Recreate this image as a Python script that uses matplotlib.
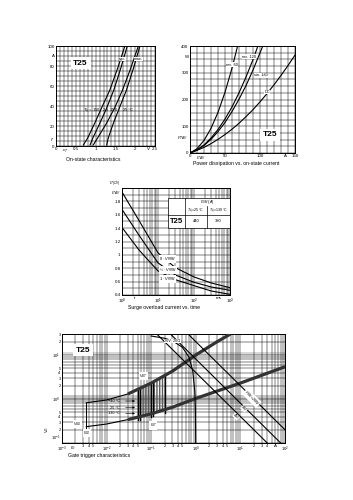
import numpy as np
import matplotlib
matplotlib.use("Agg")
import matplotlib.pyplot as plt
from matplotlib.ticker import FixedLocator, MultipleLocator, NullFormatter, FuncFormatter, LogLocator

plt.rcParams['font.family'] = ['Liberation Sans', 'DejaVu Sans']
plt.rcParams['mathtext.fontset'] = 'custom'
plt.rcParams['mathtext.rm'] = 'Liberation Sans'
plt.rcParams['mathtext.it'] = 'Liberation Sans:italic'

# ---------------- data: on-state characteristics ----------------
on_i = [1, 8, 23, 38, 56, 77, 100]
on_v_150_typ = [0.69, 0.80, 0.98, 1.15, 1.36, 1.55, 1.74]
on_v_25_typ = [0.86, 0.93, 1.11, 1.28, 1.46, 1.63, 1.80]
on_v_150_max = [0.94, 1.05, 1.28, 1.48, 1.68, 1.88, 2.08]
on_v_25_max = [1.28, 1.32, 1.45, 1.60, 1.78, 1.95, 2.12]
on_xticks = [0, 0.5, 1, 1.5, 2, 2.5]
on_xlabels = ['0', '0.5', '1', '1.5', '2', '2.5']
on_yticks = [0, 20, 40, 60, 80, 100]

# ---------------- data: power dissipation ----------------
pd_rec60_i = [0, 10, 20, 30, 40, 50, 60, 68]
pd_rec60_p = [0, 16, 47, 92, 152, 227, 317, 400]
pd_rec120_i = [0, 10, 20, 30, 40, 50, 60, 70, 80, 90, 97]
pd_rec120_p = [0, 12, 30, 56, 88, 127, 172, 225, 284, 349, 400]
pd_sin180_i = [0, 10, 20, 30, 40, 50, 60, 70, 80, 90, 104]
pd_sin180_p = [0, 11, 28, 51, 80, 114, 155, 201, 252, 310, 400]
pd_dc_i = [0, 10, 20, 30, 40, 50, 60, 70, 80, 90, 100, 110, 120, 130, 140, 150]
pd_dc_p = [0, 10, 21, 35, 51, 69, 89, 111, 136, 162, 191, 222, 255, 290, 327, 366]
pd_xticks = [0, 50, 100, 150]
pd_yticks = [0, 100, 200, 300, 400]

# ---------------- data: surge overload ----------------
su_t = [1, 3, 10, 30, 100, 300, 1000]
su_0vrrm = [1.94, 1.51, 1.03, 0.81, 0.67, 0.58, 0.51]
su_halfvrrm = [1.68, 1.29, 0.88, 0.70, 0.59, 0.52, 0.47]
su_1vrrm = [1.41, 1.07, 0.76, 0.63, 0.54, 0.46, 0.41]
su_yticks = [0.4, 0.6, 0.8, 1.0, 1.2, 1.4, 1.6, 1.8]
su_ylabels = ['0.4', '0.6', '0.8', '1', '1.2', '1.4', '1.6', '1.8']
su_itsm = ['440', '380']

# ---------------- data: gate trigger ----------------
g_up_i = [3.5e-3, 1e-2, 3e-2, 0.1, 0.3, 1, 3, 6]
g_up_v = [0.82, 0.95, 1.3, 2.3, 4.3, 10, 20, 30]
g_lo_i = [3.5e-3, 1e-2, 3e-2, 0.1, 0.3, 1, 10, 100]
g_lo_v = [0.235, 0.27, 0.34, 0.46, 0.65, 1.03, 2.3, 5.4]
g_load_i = [0.1, 0.2, 0.3, 0.5, 0.7, 0.85, 0.95, 0.98, 0.997]
g_load_v = [27, 24, 21, 15, 9, 4.5, 1.5, 0.6, 0.1]
g_p20_i, g_p20_v = [0.67, 100], [30, 0.2]
g_p8_i, g_p8_v = [0.27, 80], [30, 0.1]
g_p4_i, g_p4_v = [0.133, 40], [30, 0.1]
g_band_lines = [0.05, 0.056, 0.1, 0.11, 0.2]

W, H = 353, 500
fig = plt.figure(figsize=(W / 100, H / 100), dpi=100)
fig.patch.set_facecolor('white')

TS = 3.2   # tick label size
GRID = dict(color='black', lw=0.35)


def axes_px(x0, y0, x1, y1):
    return fig.add_axes([x0 / W, 1 - y1 / H, (x1 - x0) / W, (y1 - y0) / H])


def style(ax):
    for s in ax.spines.values():
        s.set_linewidth(0.7)
    ax.tick_params(which='both', length=0, labelsize=TS, pad=1.0)
    ax.grid(which='both', **GRID)
    ax.set_axisbelow(True)


def xunit(ax, x, s):
    ax.annotate(s, xy=(x, 0), xycoords=('data', 'axes fraction'), xytext=(0, -1.0),
                textcoords='offset points', ha='center', va='top', fontsize=TS)


def yunit(ax, y, s, rot=0, off=-1.0):
    ax.annotate(s, xy=(0, y), xycoords=('axes fraction', 'data'), xytext=(off, 0),
                textcoords='offset points', ha='right', va='center', fontsize=TS, rotation=rot)


def box(ax, x, y, s, size=6):
    ax.text(x, y, s, fontsize=size, fontweight='bold', ha='center', va='center',
            bbox=dict(facecolor='white', edgecolor='none', pad=2.0), zorder=5)


# ================= 1: on-state =================
ax1 = axes_px(56, 46, 155, 146)
ax1.set_xlim(0, 2.5)
ax1.set_ylim(0, 100)
ax1.xaxis.set_major_locator(FixedLocator(on_xticks))
ax1.set_xticklabels(on_xlabels)
ax1.xaxis.set_minor_locator(MultipleLocator(0.1))
ax1.yaxis.set_major_locator(FixedLocator(on_yticks))
ax1.yaxis.set_minor_locator(MultipleLocator(5))
style(ax1)
for v in (on_v_150_typ, on_v_25_typ, on_v_150_max, on_v_25_max):
    ax1.plot(v, on_i, color='black', lw=0.8, zorder=3)
xunit(ax1, 0.22, '$v_T$')
xunit(ax1, 2.33, 'V')
yunit(ax1, 90, 'A')
yunit(ax1, 6, '$i_T$')
box(ax1, 0.62, 83, 'T25')
ax1.text(1.32, 35, '$T_{vj}$ = 150   25  150     25 °C', fontsize=3.0, ha='center',
         va='center', zorder=4)
ax1.text(1.68, 87, 'typ.', fontsize=3.0, ha='center', va='center', zorder=4,
         bbox=dict(facecolor='white', edgecolor='none', pad=0.3))
ax1.text(2.08, 87, 'max.', fontsize=3.0, ha='center', va='center', zorder=4,
         bbox=dict(facecolor='white', edgecolor='none', pad=0.3))

# ================= 2: power dissipation =================
ax2 = axes_px(190, 46, 295, 153)
ax2.set_xlim(0, 150)
ax2.set_ylim(0, 400)
ax2.xaxis.set_major_locator(FixedLocator(pd_xticks))
ax2.xaxis.set_minor_locator(MultipleLocator(10))
ax2.yaxis.set_major_locator(FixedLocator(pd_yticks))
ax2.yaxis.set_minor_locator(MultipleLocator(25))
style(ax2)
for i_, p_ in ((pd_rec60_i, pd_rec60_p), (pd_rec120_i, pd_rec120_p),
               (pd_sin180_i, pd_sin180_p), (pd_dc_i, pd_dc_p)):
    ax2.plot(i_, p_, color='black', lw=0.8, zorder=3)
xunit(ax2, 16, '$I_{TAV}$')
xunit(ax2, 137, 'A')
yunit(ax2, 360, 'W')
yunit(ax2, 55, '$P_{TAV}$')
lbl = dict(fontsize=2.8, ha='center', va='center', zorder=4,
           bbox=dict(facecolor='white', edgecolor='none', pad=0.2))
ax2.text(60, 330, 'rec. 60', **lbl)
ax2.text(84, 360, 'rec. 120', **lbl)
ax2.text(101, 290, 'sin. 180', **lbl)
ax2.text(110, 228, 'DC', **lbl)
box(ax2, 114, 68, 'T25')

# ================= 3: surge overload =================
ax3 = axes_px(122, 188, 230, 295)
ax3.set_xscale('log')
ax3.set_xlim(1, 1000)
ax3.set_ylim(0.4, 2.0)
ax3.xaxis.set_major_locator(FixedLocator([1, 10, 100, 1000]))
ax3.set_xticklabels(['$10^0$', '$10^1$', '$10^2$', '$10^3$'])
ax3.xaxis.set_minor_locator(LogLocator(base=10, subs=np.arange(2, 10)))
ax3.xaxis.set_minor_formatter(NullFormatter())
ax3.yaxis.set_major_locator(FixedLocator(su_yticks))
ax3.set_yticklabels(su_ylabels)
ax3.yaxis.set_minor_locator(MultipleLocator(0.1))
style(ax3)
for y_ in (su_0vrrm, su_halfvrrm, su_1vrrm):
    ax3.plot(su_t, y_, color='black', lw=0.8, zorder=3)
xunit(ax3, 2.2, 't')
xunit(ax3, 480, 'ms')
ax3.annotate('$I_{T(OV)}$\n$I_{TAV}$', xy=(0, 1.0), xycoords='axes fraction', xytext=(-1.0, 0),
             textcoords='offset points', ha='right', va='center', fontsize=TS)
lb3 = dict(fontsize=2.8, ha='left', va='center', zorder=4,
           bbox=dict(facecolor='white', edgecolor='none', pad=0.2))
ax3.text(11, 0.94, '0 · $V_{RRM}$', **lb3)
ax3.text(11, 0.77, '½ · $V_{RRM}$', **lb3)
ax3.text(11, 0.635, '1 · $V_{RRM}$', **lb3)
# table
tx0, tx1, ty0, ty1 = 0.426, 1.0, 0.626, 0.907
c1, c2, r1 = 0.583, 0.784, 0.748
ax3.add_patch(plt.Rectangle((tx0, ty0), tx1 - tx0, ty1 - ty0, transform=ax3.transAxes,
                            facecolor='white', edgecolor='black', lw=0.5, zorder=5))
ax3.plot([c1, c1], [ty0, ty1], transform=ax3.transAxes, color='black', lw=0.5, zorder=6)
ax3.plot([c2, c2], [ty0, 0.83], transform=ax3.transAxes, color='black', lw=0.5, zorder=6)
ax3.plot([tx0, tx1], [r1, r1], transform=ax3.transAxes, color='black', lw=0.5, zorder=6)
tt = dict(transform=ax3.transAxes, ha='center', va='center', zorder=7)
ax3.text((c1 + tx1) / 2, 0.868, '$I_{TSM}$ (A)', fontsize=2.8, **tt)
ax3.text((c1 + c2) / 2, 0.79, '$T_{vj}$=25 °C', fontsize=2.6, **tt)
ax3.text((c2 + tx1) / 2, 0.79, '$T_{vj}$=130 °C', fontsize=2.6, **tt)
ax3.text((tx0 + c1) / 2, 0.687, 'T25', fontsize=5.5, fontweight='bold', **tt)
ax3.text((c1 + c2) / 2, 0.687, su_itsm[0], fontsize=3.0, **tt)
ax3.text((c2 + tx1) / 2, 0.687, su_itsm[1], fontsize=3.0, **tt)

# ================= 4: gate trigger =================
ax4 = axes_px(62, 334, 285, 443)
ax4.set_xscale('log')
ax4.set_yscale('log')
ax4.set_xlim(1e-3, 1e2)
ax4.set_ylim(0.1, 30)
ax4.xaxis.set_major_locator(FixedLocator([1e-3, 1e-2, 1e-1, 1, 10, 100]))
ax4.set_xticklabels(['$10^{-3}$', '$10^{-2}$', '$10^{-1}$', '$10^0$', '$10^1$', '$10^2$'])
ax4.yaxis.set_major_locator(FixedLocator([0.1, 1, 10]))
ax4.set_yticklabels(['$10^{-1}$', '$10^0$', '$10^1$'])
ax4.xaxis.set_minor_locator(LogLocator(base=10, subs=np.arange(2, 10)))
ax4.yaxis.set_minor_locator(LogLocator(base=10, subs=np.arange(2, 10)))


def xminor(v, pos):
    m = v / 10 ** np.floor(np.log10(v) + 1e-9)
    m = int(round(m))
    if v > 9 and m == 5:
        return ''
    if v < 0.0025 and m == 2:
        return ''
    return str(m) if m in (2, 3, 4, 5) else ''


def yminor(v, pos):
    m = int(round(v / 10 ** np.floor(np.log10(v) + 1e-9)))
    return str(m) if m in (2, 3, 4, 5) else ''


ax4.xaxis.set_minor_formatter(FuncFormatter(xminor))
ax4.yaxis.set_minor_formatter(FuncFormatter(yminor))
style(ax4)
ax4.tick_params(which='minor', labelsize=2.8, pad=1.0)
ax4.tick_params(which='major', labelsize=3.0, pad=1.0)
ax4.get_yticklabels()[0].set_va('bottom')
ax4.axhspan(0.95, 1.25, color='0.78', lw=0, zorder=0.5)
ax4.axhspan(10, 12, color='0.85', lw=0, zorder=0.5)

# hatched trigger region
bi = np.logspace(np.log10(0.05), np.log10(0.22), 40)
lo_b = 10 ** np.interp(np.log10(bi), np.log10(g_lo_i), np.log10(g_lo_v))
up_b = 10 ** np.interp(np.log10(bi), np.log10(g_up_i), np.log10(g_up_v))
ax4.fill_between(bi, lo_b, up_b, facecolor='none', edgecolor='0.35', hatch='||||||', lw=0, zorder=2)
for xb in g_band_lines:
    lo_x = 10 ** np.interp(np.log10(xb), np.log10(g_lo_i), np.log10(g_lo_v))
    up_x = 10 ** np.interp(np.log10(xb), np.log10(g_up_i), np.log10(g_up_v))
    ax4.plot([xb, xb], [lo_x * 0.85, up_x], color='black', lw=1.0, zorder=3)

# boundary curves
ax4.plot(g_up_i, g_up_v, color='black', lw=0.8, zorder=3)
ax4.plot(g_lo_i, g_lo_v, color='black', lw=0.8, zorder=3)
up_i = np.array(g_up_i); up_v = np.array(g_up_v)
lo_i = np.array(g_lo_i); lo_v = np.array(g_lo_v)
mu = up_i >= 0.03
ml = lo_i >= 0.03
ax4.plot(up_i[mu], up_v[mu], color='0.2', lw=2.3, zorder=3, solid_capstyle='butt')
ax4.plot(lo_i[ml], lo_v[ml], color='0.2', lw=2.3, zorder=3, solid_capstyle='butt')
ax4.plot([g_up_i[0], g_up_i[0]], [g_lo_v[0] * 0.85, g_up_v[0]], color='black', lw=0.7, zorder=3)

# load line and power lines
ax4.plot(g_load_i, g_load_v, color='black', lw=0.8, zorder=3)
for pi, pv in ((g_p20_i, g_p20_v), (g_p8_i, g_p8_v), (g_p4_i, g_p4_v)):
    ax4.plot(pi, pv, color='black', lw=0.8, zorder=3)

lb4 = dict(fontsize=2.8, zorder=4, bbox=dict(facecolor='white', edgecolor='none', pad=0.2))
ax4.text(0.3, 21, '20V; 20Ω', ha='center', va='center', **lb4)
ax4.text(18, 1.05, '$P_{GM}$=20W', rotation=-45, ha='center', va='center', **lb4)
ax4.text(12, 0.6, '8W', rotation=-45, ha='center', va='center', **lb4)
ax4.text(8, 0.4, '4W', rotation=-45, ha='center', va='center', **lb4)
ax4.text(0.066, 3.3, '$V_{GT}$', ha='center', va='center', **lb4)
ax4.text(0.11, 0.25, '$I_{GT}$', ha='center', va='center', **lb4)
ax4.text(2.2e-3, 0.27, '$V_{GD}$', ha='center', va='center', **lb4)
ax4.text(3.6e-3, 0.17, '$I_{GD}$', ha='center', va='center', **lb4)
for y_, s in ((0.9, '−40 °C'), (0.64, '25 °C'), (0.47, '130 °C')):
    ax4.annotate(s, xy=(0.05, y_), xytext=(0.02, y_), fontsize=2.8, ha='right', va='center',
                 arrowprops=dict(arrowstyle='-|>', lw=0.4, color='black', mutation_scale=3),
                 zorder=4)
xunit(ax4, 1.7e-3, '$I_G$')
xunit(ax4, 62, 'A')
yunit(ax4, 0.2, '$V_G$', rot=90, off=-8.0)
box(ax4, 2.95e-3, 12.9, 'T25')

# captions
cap = dict(fontsize=3.7, ha='left', va='center')
fig.text(66 / W, 1 - 159 / H, 'On-state characteristics', **cap)
fig.text(193 / W, 1 - 163 / H, 'Power dissipation vs. on-state current', **cap)
fig.text(128 / W, 1 - 308 / H, 'Surge overload current vs. time', **cap)
fig.text(68 / W, 1 - 455 / H, 'Gate trigger characteristics', **cap)

fig.savefig('out.png', dpi=100, facecolor='white')
